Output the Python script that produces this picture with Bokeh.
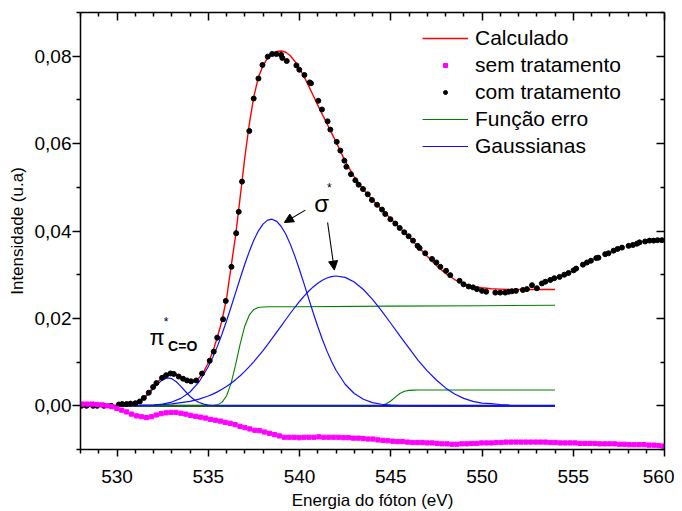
from bokeh.plotting import figure
from bokeh.models import (Range1d, FixedTicker, LinearAxis, CustomJSTickFormatter,
                          Legend, LegendItem, Label, Arrow, NormalHead)
from bokeh.embed import file_html
from bokeh.resources import INLINE

FONT = "Liberation Sans"

# ---------------- data ----------------
x_major_ticks = [530, 535, 540, 545, 550, 555, 560]
x_minor_ticks = [528, 529, 531, 532, 533, 534, 536, 537, 538, 539, 541, 542, 543, 544,
                 546, 547, 548, 549, 551, 552, 553, 554, 556, 557, 558, 559]
y_major_ticks = [0.0, 0.02, 0.04, 0.06, 0.08]
y_minor_ticks = [-0.01, 0.01, 0.03, 0.05, 0.07, 0.09]

# "com tratamento" (black dots)
com_x = [528.05, 528.33, 528.69, 528.91, 529.28, 529.68, 530.10, 530.28, 530.52, 530.74,
         531.01, 531.25, 531.47, 531.74, 531.98, 532.16, 532.47, 532.69, 532.93, 533.11,
         533.38, 533.62, 533.84, 534.06, 534.34, 534.66, 535.08, 535.30, 535.49, 535.81,
         535.96, 536.27, 536.53, 536.67, 536.85, 537.25, 537.49, 537.75, 537.97, 538.26,
         538.50, 538.73, 538.99, 539.06, 539.30, 539.83, 539.99, 540.27, 540.56, 540.63,
         541.03, 541.23, 541.54, 541.69, 542.04, 542.24, 542.46, 542.57, 542.82, 543.06,
         543.24, 543.48, 543.74, 543.97, 544.25, 544.52, 544.70, 544.98, 545.25, 545.49,
         545.74, 545.98, 546.22, 546.47, 546.58, 546.89, 547.26, 547.50, 547.72, 548.03,
         548.26, 548.77, 548.99, 549.27, 549.51, 549.72, 550.00, 550.23, 550.73, 551.00,
         551.27, 551.46, 551.64, 551.86, 552.24, 552.46, 552.74, 553.01, 553.28, 553.47,
         553.74, 553.96, 554.25, 554.51, 554.74, 555.02, 555.16, 555.53, 555.75, 555.97,
         556.26, 556.38, 556.75, 556.93, 557.21, 557.43, 557.67, 558.03, 558.27, 558.49,
         558.63, 558.94, 559.18, 559.40, 559.62, 559.86]
com_y = [0.0000, 0.0000, 0.0000, 0.0000, 0.0000, 0.0000, 0.0003, 0.0004, 0.0004, 0.0005,
         0.0006, 0.0010, 0.0018, 0.0030, 0.0043, 0.0052, 0.0064, 0.0070, 0.0074, 0.0073,
         0.0067, 0.0062, 0.0058, 0.0056, 0.0058, 0.0074, 0.0103, 0.0124, 0.0156, 0.0198,
         0.0240, 0.0318, 0.0395, 0.0444, 0.0513, 0.0629, 0.0703, 0.0749, 0.0780, 0.0799,
         0.0805, 0.0805, 0.0803, 0.0796, 0.0789, 0.0779, 0.0769, 0.0757, 0.0740, 0.0738,
         0.0698, 0.0678, 0.0651, 0.0632, 0.0604, 0.0584, 0.0561, 0.0547, 0.0530, 0.0516,
         0.0506, 0.0496, 0.0484, 0.0471, 0.0460, 0.0449, 0.0439, 0.0427, 0.0417, 0.0407,
         0.0397, 0.0388, 0.0378, 0.0366, 0.0361, 0.0349, 0.0336, 0.0328, 0.0318, 0.0309,
         0.0299, 0.0286, 0.0278, 0.0273, 0.0271, 0.0267, 0.0263, 0.0261, 0.0259, 0.0259,
         0.0259, 0.0261, 0.0262, 0.0263, 0.0265, 0.0267, 0.0276, 0.0269, 0.0280, 0.0284,
         0.0288, 0.0292, 0.0295, 0.0300, 0.0304, 0.0310, 0.0314, 0.0323, 0.0328, 0.0332,
         0.0338, 0.0339, 0.0347, 0.0349, 0.0355, 0.0359, 0.0362, 0.0366, 0.0368, 0.0371,
         0.0374, 0.0376, 0.0378, 0.0378, 0.0379, 0.0379]

# "sem tratamento" (magenta squares)
sem_x = [528.10, 528.37, 528.64, 528.91, 529.18, 529.45, 529.72, 529.99, 530.26, 530.53,
         530.80, 531.07, 531.34, 531.61, 531.88, 532.15, 532.42, 532.69, 532.96, 533.23,
         533.50, 533.77, 534.04, 534.31, 534.58, 534.85, 535.12, 535.39, 535.66, 535.93,
         536.20, 536.47, 536.74, 537.01, 537.28, 537.55, 537.82, 538.09, 538.36, 538.63,
         538.90, 539.17, 539.44, 539.71, 539.98, 540.25, 540.52, 540.79, 541.06, 541.33,
         541.60, 541.87, 542.14, 542.41, 542.68, 542.95, 543.22, 543.49, 543.76, 544.03,
         544.30, 544.57, 544.84, 545.11, 545.38, 545.65, 545.92, 546.19, 546.46, 546.73,
         547.00, 547.27, 547.54, 547.81, 548.08, 548.35, 548.62, 548.89, 549.16, 549.43,
         549.70, 549.97, 550.24, 550.51, 550.78, 551.05, 551.32, 551.59, 551.86, 552.13,
         552.40, 552.67, 552.94, 553.21, 553.48, 553.75, 554.02, 554.29, 554.56, 554.83,
         555.10, 555.37, 555.64, 555.91, 556.18, 556.45, 556.72, 556.99, 557.26, 557.53,
         557.80, 558.07, 558.34, 558.61, 558.88, 559.15, 559.42, 559.69, 559.96]
sem_y = [0.0004, 0.0004, 0.0004, 0.0003, 0.0002, 0.0000, -0.0002, -0.0006, -0.0010, -0.0014,
         -0.0019, -0.0023, -0.0025, -0.0027, -0.0025, -0.0021, -0.0018, -0.0016, -0.0015, -0.0015,
         -0.0017, -0.0019, -0.0022, -0.0024, -0.0026, -0.0028, -0.0031, -0.0033, -0.0035, -0.0038,
         -0.0040, -0.0043, -0.0047, -0.0050, -0.0053, -0.0056, -0.0057, -0.0060, -0.0063, -0.0066,
         -0.0069, -0.0072, -0.0072, -0.0072, -0.0073, -0.0072, -0.0072, -0.0072, -0.0071, -0.0072,
         -0.0072, -0.0072, -0.0072, -0.0073, -0.0073, -0.0074, -0.0074, -0.0075, -0.0076, -0.0076,
         -0.0078, -0.0079, -0.0080, -0.0081, -0.0082, -0.0082, -0.0083, -0.0084, -0.0084, -0.0084,
         -0.0085, -0.0085, -0.0086, -0.0087, -0.0087, -0.0088, -0.0088, -0.0087, -0.0087, -0.0086,
         -0.0086, -0.0085, -0.0085, -0.0085, -0.0084, -0.0084, -0.0083, -0.0083, -0.0083, -0.0083,
         -0.0083, -0.0083, -0.0083, -0.0083, -0.0083, -0.0084, -0.0084, -0.0085, -0.0085, -0.0085,
         -0.0085, -0.0086, -0.0086, -0.0086, -0.0086, -0.0087, -0.0087, -0.0087, -0.0087, -0.0088,
         -0.0088, -0.0089, -0.0089, -0.0089, -0.0089, -0.0090, -0.0090, -0.0091, -0.0092]

# "Calculado" (red fit curve)
calc_x = [528, 529, 529.5, 530, 530.25, 530.5, 530.75, 531, 531.25, 531.5,
          531.75, 532, 532.25, 532.5, 532.75, 533, 533.25, 533.5, 533.75, 534,
          534.25, 534.5, 534.75, 535, 535.25, 535.5, 535.75, 536, 536.25, 536.5,
          536.75, 537, 537.25, 537.5, 537.75, 538, 538.25, 538.5, 538.75, 539,
          539.25, 539.5, 539.75, 540, 540.25, 540.5, 540.75, 541, 541.25, 541.5,
          541.75, 542, 542.5, 543, 543.5, 544, 544.5, 545, 545.5, 546,
          546.5, 547, 547.5, 548, 548.5, 549, 549.5, 550, 550.5, 551,
          551.5, 552, 552.5, 553, 553.5, 554]
calc_y = [0.0, 0.0, 0.00001, 0.00004, 0.00008, 0.00017, 0.00034, 0.00066, 0.00119, 0.00198,
          0.00306, 0.00432, 0.00558, 0.00666, 0.00732, 0.00749, 0.00726, 0.0067, 0.0062, 0.0058,
          0.0058, 0.0064, 0.0078, 0.0098, 0.0124, 0.0157, 0.0195, 0.0245, 0.0318, 0.0390,
          0.0478, 0.0567, 0.0645, 0.0708, 0.0752, 0.0778, 0.0796, 0.0806, 0.0811, 0.0812,
          0.0809, 0.0801, 0.0788, 0.0772, 0.0753, 0.0732, 0.0710, 0.0688, 0.0667, 0.0646,
          0.0625, 0.0604, 0.0560, 0.0524, 0.0495, 0.0471, 0.0449, 0.0428, 0.0407, 0.0386,
          0.0364, 0.0342, 0.0321, 0.0303, 0.0289, 0.0279, 0.0273, 0.0270, 0.0268, 0.0267,
          0.0266, 0.0266, 0.0266, 0.0266, 0.0266, 0.0266]

# Gaussians (blue)
g1_x = [528, 529.5, 530, 530.25, 530.5, 530.75, 531, 531.25, 531.5, 531.75,
        532, 532.25, 532.5, 532.75, 533, 533.25, 533.5, 533.75, 534, 534.25,
        534.5, 534.75, 535, 535.25, 535.5, 535.75, 536, 554]
g1_y = [0, 0, 0.00002, 0.00005, 0.00013, 0.00028, 0.00058, 0.00107, 0.00182, 0.00282,
        0.00398, 0.00511, 0.00599, 0.00639, 0.00621, 0.00551, 0.00445, 0.00327, 0.00219, 0.00134,
        0.00075, 0.00038, 0.00017, 0.00007, 0.00003, 0.00001, 0, 0]

g2_x = [528, 531, 532, 532.5, 533, 533.5, 534, 534.5, 535, 535.25,
        535.5, 535.75, 536, 536.25, 536.5, 536.75, 537, 537.25, 537.5, 537.75,
        538, 538.25, 538.5, 538.75, 539, 539.25, 539.5, 539.75, 540, 540.25,
        540.5, 540.75, 541, 541.25, 541.5, 541.75, 542, 542.5, 543, 543.5,
        544, 544.5, 545, 545.5, 546, 547, 554]
g2_y = [0, 0.00003, 0.00018, 0.00041, 0.00086, 0.0017, 0.00316, 0.00549, 0.00893, 0.01111,
        0.0136, 0.01637, 0.0194, 0.0226, 0.0259, 0.0292, 0.03238, 0.03533, 0.03792, 0.04004,
        0.04158, 0.04248, 0.0427, 0.0422, 0.04103, 0.03926, 0.03694, 0.03419, 0.03114, 0.02789,
        0.02457, 0.0213, 0.01816, 0.01523, 0.01257, 0.0102, 0.00814, 0.00494, 0.00281, 0.00149,
        0.00074, 0.00035, 0.00015, 0.00006, 0.00002, 0, 0]

g3_x = [528, 530, 531, 532, 533, 534, 534.5, 535, 535.25, 535.5,
        535.75, 536, 536.25, 536.5, 536.75, 537, 537.25, 537.5, 537.75, 538,
        538.25, 538.5, 538.75, 539, 539.25, 539.5, 539.75, 540, 540.25, 540.5,
        540.75, 541, 541.25, 541.5, 541.75, 542, 542.5, 543, 543.5, 544,
        544.5, 545, 545.5, 546, 546.5, 547, 547.5, 548, 548.5, 549,
        549.5, 550, 550.5, 551, 551.5, 552, 553, 554]
g3_y = [0, 0.00002, 0.00005, 0.00016, 0.00042, 0.00102, 0.00153, 0.00224, 0.00268, 0.00319,
        0.00377, 0.00443, 0.00516, 0.00598, 0.00689, 0.00788, 0.00896, 0.01012, 0.01135, 0.01265,
        0.01401, 0.01542, 0.01685, 0.0183, 0.01975, 0.02118, 0.02255, 0.02387, 0.02509, 0.02621,
        0.0272, 0.02804, 0.02873, 0.02924, 0.02956, 0.0297, 0.02939, 0.02834, 0.02662, 0.02437,
        0.02173, 0.01889, 0.01599, 0.01319, 0.0104, 0.0080, 0.0059, 0.0041, 0.0027, 0.0017,
        0.0010, 0.0006, 0.0005, 0.0003, 0.00015, 0.00007, 0.00001, 0]

# Error functions (green)
e1_x = [528, 535, 535.25, 535.5, 535.75, 536, 536.25, 536.5, 536.75, 537,
        537.25, 537.5, 537.75, 538, 538.25, 540, 545, 550, 554]
e1_y = [0, 0.00001, 0.00004, 0.00021, 0.00078, 0.00225, 0.00514, 0.0094, 0.01418, 0.01822,
        0.02079, 0.02205, 0.0225, 0.02262, 0.02265, 0.02268, 0.0228, 0.0229, 0.0230]

e2_x = [528, 544, 544.25, 544.5, 544.75, 545, 545.25, 545.5, 545.75, 546,
        546.25, 546.5, 554]
e2_y = [0, 0, 0.00003, 0.00013, 0.00045, 0.00109, 0.00198, 0.00281, 0.00332, 0.00353,
        0.00359, 0.0036, 0.0036]

baseline_x = [528, 554]
baseline_y = [0, 0]

# annotation anchors (data units)
pi_pos = (531.78, 0.0156)
pi_star_pos = (532.56, 0.0192)
co_pos = (532.80, 0.0137)
sigma_pos = (540.81, 0.0464)
sigma_star_pos = (541.51, 0.0499)
arrow1 = (540.32, 0.04478, 539.17, 0.04195)
arrow2 = (541.54, 0.04195, 541.91, 0.03105)

# ---------------- figure ----------------
p = figure(frame_width=584, frame_height=437, output_backend="svg", toolbar_location=None,
           x_range=Range1d(528, 560), y_range=Range1d(-0.01, 0.09),
           min_border_left=80, min_border_right=10, min_border_top=12, min_border_bottom=56)
p.outline_line_color = None
p.xgrid.visible = False
p.ygrid.visible = False
p.background_fill_color = "white"
p.border_fill_color = "white"

xt = FixedTicker(ticks=x_major_ticks, minor_ticks=x_minor_ticks)
yt = FixedTicker(ticks=y_major_ticks, minor_ticks=y_minor_ticks)

def style_axis(ax, inward=False, labels=True):
    ax.axis_line_color = "black"
    ax.axis_line_width = 1.5
    ax.major_tick_line_color = "black"
    ax.major_tick_line_width = 1.5
    ax.minor_tick_line_color = "black"
    ax.minor_tick_line_width = 1.5
    if inward:
        ax.major_tick_in = 8
        ax.major_tick_out = 0
        ax.minor_tick_in = 4
        ax.minor_tick_out = 0
    else:
        ax.major_tick_in = 0
        ax.major_tick_out = 7
        ax.minor_tick_in = 0
        ax.minor_tick_out = 4
    if not labels:
        ax.formatter = CustomJSTickFormatter(code="return '';")
        ax.major_label_text_font_size = "1px"
        ax.major_label_text_color = None
        ax.major_label_standoff = 0

xax = p.xaxis[0]
xax.ticker = xt
style_axis(xax)
xax.major_label_text_font = FONT
xax.major_label_text_font_size = "19px"
xax.major_label_text_color = "black"
xax.major_label_standoff = 13
xax.axis_label = "Energia do fóton (eV)"
xax.axis_label_text_font = FONT
xax.axis_label_text_font_style = "normal"
xax.axis_label_text_font_size = "17px"
xax.axis_label_text_color = "black"
xax.axis_label_standoff = 5

yax = p.yaxis[0]
yax.ticker = yt
style_axis(yax)
yax.major_tick_out = 8
yax.formatter = CustomJSTickFormatter(code="return tick.toFixed(2).replace('.', ',');")
yax.major_label_text_font = FONT
yax.major_label_text_font_size = "19px"
yax.major_label_text_color = "black"
yax.major_label_standoff = 1
yax.axis_label = "Intensidade (u.a)"
yax.axis_label_text_font = FONT
yax.axis_label_text_font_style = "normal"
yax.axis_label_text_font_size = "17px"
yax.axis_label_text_color = "black"
yax.axis_label_standoff = 5

top = LinearAxis(ticker=xt)
style_axis(top, inward=True, labels=False)
p.add_layout(top, "above")
right = LinearAxis(ticker=yt)
style_axis(right, inward=True, labels=False)
p.add_layout(right, "right")

# ---------------- glyphs ----------------
p.line(baseline_x, baseline_y, line_color="black", line_width=2)
r_e1 = p.line(e1_x, e1_y, line_color="#008000", line_width=1.1)
p.line(e2_x, e2_y, line_color="#008000", line_width=1.1)
r_g1 = p.line(g1_x, g1_y, line_color="#1010FF", line_width=1.2)
p.line(g2_x, g2_y, line_color="#1010FF", line_width=1.2)
p.line(g3_x, g3_y, line_color="#1010FF", line_width=1.2)
r_calc = p.line(calc_x, calc_y, line_color="#FF0000", line_width=1.4)
r_com = p.scatter(com_x, com_y, marker="circle", size=5, fill_color="black", line_color="black")
r_sem = p.scatter(sem_x, sem_y, marker="square", size=4.2, fill_color="#FF00FF", line_color="#FF00FF")

legend = Legend(items=[
    LegendItem(label="Calculado", renderers=[r_calc]),
    LegendItem(label="sem tratamento", renderers=[r_sem]),
    LegendItem(label="com tratamento", renderers=[r_com]),
    LegendItem(label="Função erro", renderers=[r_e1]),
    LegendItem(label="Gaussianas", renderers=[r_g1]),
], location=(342, 291), orientation="vertical",
   border_line_color=None, background_fill_alpha=0.0,
   glyph_width=46, glyph_height=10, label_height=22, spacing=3,
   label_standoff=7, padding=0, margin=0,
   label_text_font=FONT, label_text_font_size="21px", label_text_color="black")
p.add_layout(legend)

# ---------------- annotations ----------------
p.add_layout(Label(x=pi_pos[0], y=pi_pos[1], text="π", text_font=FONT,
                   text_font_size="22px", text_color="black", text_baseline="alphabetic"))
p.add_layout(Label(x=pi_star_pos[0], y=pi_star_pos[1], text="*", text_font=FONT,
                   text_font_size="12px", text_color="black", text_baseline="alphabetic"))
p.add_layout(Label(x=co_pos[0], y=co_pos[1], text="C=O", text_font=FONT,
                   text_font_size="14px", text_font_style="bold", text_color="black",
                   text_baseline="alphabetic"))
p.add_layout(Label(x=sigma_pos[0], y=sigma_pos[1], text="σ", text_font=FONT,
                   text_font_size="24px", text_color="black", text_baseline="alphabetic"))
p.add_layout(Label(x=sigma_star_pos[0], y=sigma_star_pos[1], text="*", text_font=FONT,
                   text_font_size="12px", text_color="black", text_baseline="alphabetic"))
for (xs, ys, xe, ye) in (arrow1, arrow2):
    p.add_layout(Arrow(end=NormalHead(size=9, fill_color="black", line_color="black", line_width=1),
                       x_start=xs, y_start=ys, x_end=xe, y_end=ye,
                       line_color="black", line_width=1.1))

with open("out.html", "w", encoding="utf-8") as f:
    f.write(file_html(p, INLINE))
